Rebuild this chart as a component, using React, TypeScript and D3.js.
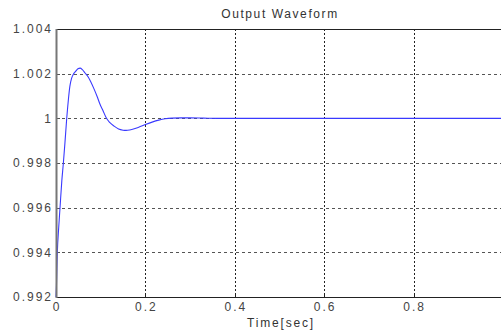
import React, { useRef, useEffect } from 'react'
import * as d3 from 'd3'

// time [sec] and output values
const timeValues = [
  0, 0.001, 0.003, 0.006, 0.009, 0.013, 0.0165, 0.02, 0.024, 0.028, 0.031, 0.035, 0.039, 0.044,
  0.049, 0.054, 0.059, 0.065, 0.072, 0.078, 0.085, 0.092, 0.098, 0.105, 0.113, 0.12, 0.13,
  0.14, 0.15, 0.157, 0.165, 0.175, 0.185, 0.2, 0.215, 0.23, 0.244, 0.26, 0.28, 0.3, 0.33,
  0.36, 0.4, 0.5, 0.6, 0.7, 0.8, 0.9, 1.0,
]
const outputValues = [
  0.992, 0.9925, 0.994, 0.9951, 0.996, 0.9972, 0.998, 0.9989, 1.0, 1.0009, 1.00143, 1.0018,
  1.00198, 1.0021, 1.00222, 1.00225, 1.00218, 1.00203, 1.00185, 1.00163, 1.00132, 1.00098,
  1.00065, 1.00035, 1.0, 0.99982, 0.99965, 0.99952, 0.99947, 0.99946, 0.99948, 0.99953,
  0.9996, 0.99972, 0.99983, 0.99992, 0.99998, 1.00001, 1.00002, 1.00002, 1.00001, 1.0,
  1.0, 1.0, 1.0, 1.0, 1.0, 1.0, 1.0,
]

const xTicks = [0, 0.2, 0.4, 0.6, 0.8, 1.0]
const yTicks = [0.992, 0.994, 0.996, 0.998, 1, 1.002, 1.004]

const title = 'Output Waveform'
const xLabel = 'Time[sec]'

const width = 501
const height = 330
const margin = { top: 29, right: -2, bottom: 33, left: 56 }

const font = 'Liberation Sans, Arial, sans-serif'

export default function App() {
  const svgRef = useRef<SVGSVGElement>(null)

  useEffect(() => {
    if (!svgRef.current) return
    const svg = d3.select(svgRef.current)
    svg.selectAll('*').remove()

    const innerWidth = width - margin.left - margin.right
    const innerHeight = height - margin.top - margin.bottom

    const xScale = d3.scaleLinear().domain([0, 1]).range([0, innerWidth])
    const yScale = d3.scaleLinear().domain([0.992, 1.004]).range([innerHeight, 0])

    svg.append('rect').attr('width', width).attr('height', height).attr('fill', '#fff')

    const g = svg.append('g').attr('transform', `translate(${margin.left}, ${margin.top})`)

    // grid lines
    g.append('g')
      .selectAll('line')
      .data(yTicks.slice(1, -1))
      .enter()
      .append('line')
      .attr('x1', 0)
      .attr('x2', innerWidth)
      .attr('y1', d => Math.round(yScale(d)) + 0.5)
      .attr('y2', d => Math.round(yScale(d)) + 0.5)
      .attr('stroke', '#555')
      .attr('stroke-dasharray', '3,3')

    g.append('g')
      .selectAll('line')
      .data(xTicks.slice(1))
      .enter()
      .append('line')
      .attr('x1', d => Math.round(xScale(d)) + 0.5)
      .attr('x2', d => Math.round(xScale(d)) + 0.5)
      .attr('y1', 0)
      .attr('y2', innerHeight)
      .attr('stroke', '#222')
      .attr('stroke-dasharray', '2,2')

    // small inside tick marks
    g.append('g')
      .selectAll('line')
      .data(yTicks.slice(1, -1))
      .enter()
      .append('line')
      .attr('x1', 1)
      .attr('x2', 4)
      .attr('y1', d => Math.round(yScale(d)) + 0.5)
      .attr('y2', d => Math.round(yScale(d)) + 0.5)
      .attr('stroke', '#555')
    g.append('g')
      .selectAll('line')
      .data(xTicks.slice(1))
      .enter()
      .append('line')
      .attr('x1', d => Math.round(xScale(d)) + 0.5)
      .attr('x2', d => Math.round(xScale(d)) + 0.5)
      .attr('y1', innerHeight - 3)
      .attr('y2', innerHeight)
      .attr('stroke', '#222')

    // waveform
    const points: [number, number][] = timeValues.map((t, i) => [t, outputValues[i]])
    const line = d3
      .line<[number, number]>()
      .x(d => xScale(d[0]))
      .y(d => yScale(d[1]))
      .curve(d3.curveMonotoneX)

    g.append('path')
      .datum(points)
      .attr('fill', 'none')
      .attr('stroke', '#3a3aff')
      .attr('stroke-width', 1.1)
      .attr('d', line)

    // frame
    g.append('line')
      .attr('x1', 0).attr('x2', innerWidth)
      .attr('y1', 0.5).attr('y2', 0.5)
      .attr('stroke', '#222')
    g.append('line')
      .attr('x1', 0).attr('x2', innerWidth)
      .attr('y1', innerHeight + 0.5).attr('y2', innerHeight + 0.5)
      .attr('stroke', '#222')
    g.append('line')
      .attr('x1', 0.5).attr('x2', 0.5)
      .attr('y1', 0).attr('y2', innerHeight + 1)
      .attr('stroke', '#777')
      .attr('stroke-width', 2)

    // tick labels
    g.append('g')
      .selectAll('text')
      .data(yTicks)
      .enter()
      .append('text')
      .attr('x', -3)
      .attr('y', d => yScale(d))
      .attr('dy', '0.36em')
      .attr('text-anchor', 'end')
      .style('font-family', font)
      .style('font-size', '12px')
      .style('letter-spacing', '2px')
      .style('fill', '#444')
      .text(d => d3.format('.4~f')(d))

    g.append('g')
      .selectAll('text')
      .data(xTicks.slice(0, -1))
      .enter()
      .append('text')
      .attr('x', d => xScale(d) + 1)
      .attr('y', innerHeight + 14)
      .attr('text-anchor', 'middle')
      .style('font-family', font)
      .style('font-size', '12px')
      .style('letter-spacing', '2px')
      .style('fill', '#444')
      .text(d => d3.format('~g')(d))

    svg.append('text')
      .attr('x', 281)
      .attr('y', 327)
      .attr('text-anchor', 'middle')
      .style('font-family', font)
      .style('font-size', '12px')
      .style('letter-spacing', '1.8px')
      .style('fill', '#333')
      .text(xLabel)

    svg.append('text')
      .attr('x', 280)
      .attr('y', 18)
      .attr('text-anchor', 'middle')
      .style('font-family', font)
      .style('font-size', '12px')
      .style('letter-spacing', '1.6px')
      .style('fill', '#333')
      .text(title)
  }, [])

  return (
    <div style={{ position: 'fixed', left: 0, top: 0 }}>
      <svg ref={svgRef} width={width} height={height} style={{ display: 'block' }} />
    </div>
  )
}
